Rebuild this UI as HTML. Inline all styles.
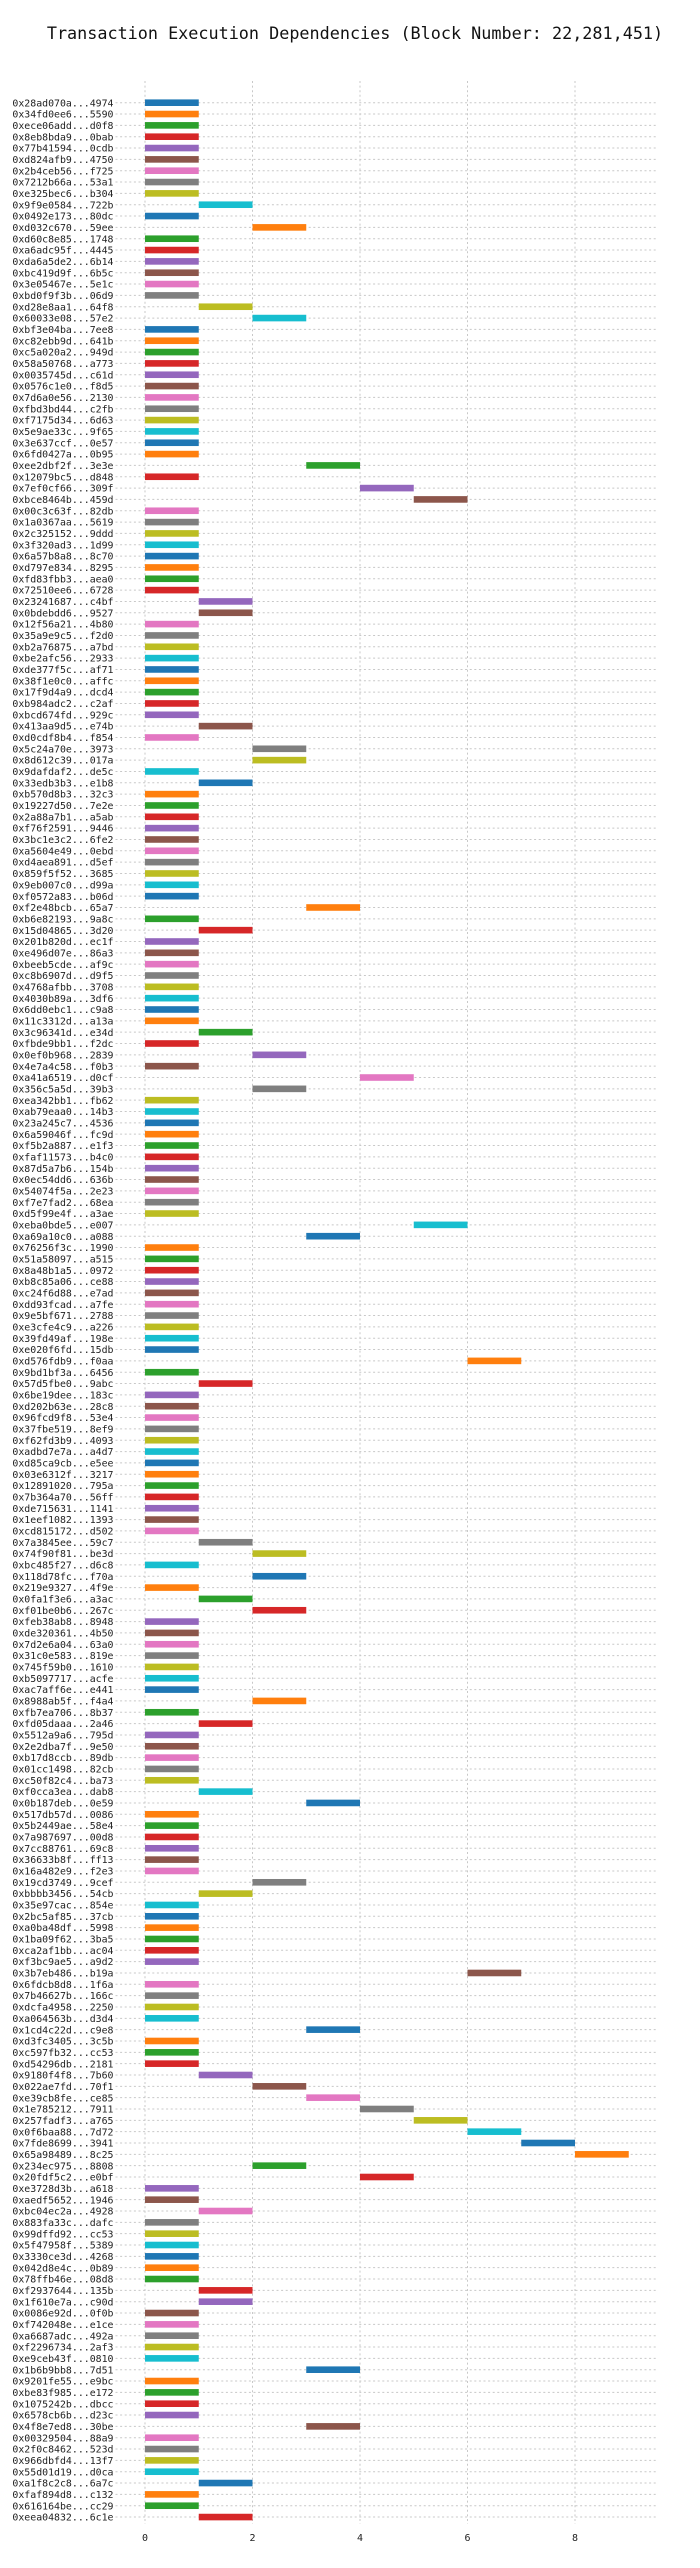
<!DOCTYPE html>
<html>
<head>
<meta charset="utf-8">
<style>
  html,body{margin:0;padding:0;background:#fff;}
  svg{display:block;}
  text{font-family:"DejaVu Sans Mono","Liberation Mono",monospace;}
</style>
</head>
<body>
<svg id="chart" width="700" height="2568" viewBox="0 0 700 2568" xmlns="http://www.w3.org/2000/svg">
  <text x="355" y="39" text-anchor="middle" font-size="16.8" fill="#111">Transaction Execution Dependencies (Block Number: 22,281,451)</text>
  <g id="grid"></g>
  <g id="bars"></g>
  <g id="ylabels"></g>
  <g id="xticks"></g>
</svg>
<script>
const txLabels = ["0x28ad070a...4974","0x34fd0ee6...5590","0xece06add...d0f8","0x8eb8bda9...0bab","0x77b41594...0cdb","0xd824afb9...4750","0x2b4ceb56...f725","0x7212b66a...53a1","0xe325bec6...b304","0x9f9e0584...722b","0x0492e173...80dc","0xd032c670...59ee","0xd60c8e85...1748","0xa6adc95f...4445","0xda6a5de2...6b14",
"0xbc419d9f...6b5c","0x3e05467e...5e1c","0xbd0f9f3b...06d9","0xd28e8aa1...64f8","0x60033e08...57e2","0xbf3e04ba...7ee8","0xc82ebb9d...641b","0xc5a020a2...949d","0x58a50768...a773","0x0035745d...c61d","0x0576c1e0...f8d5","0x7d6a0e56...2130","0xfbd3bd44...c2fb","0xf7175d34...6d63","0x5e9ae33c...9f65","0x3e637ccf...0e57","0x6fd0427a...0b95","0xee2dbf2f...3e3e",
"0x12079bc5...d848","0x7ef0cf66...309f","0xbce8464b...459d","0x00c3c63f...82db","0x1a0367aa...5619","0x2c325152...9ddd","0x3f320ad3...1d99","0x6a57b8a8...8c70","0xd797e834...8295","0xfd83fbb3...aea0","0x72510ee6...6728","0x23241687...c4bf","0x0bdebdd6...9527","0x12f56a21...4b80","0x35a9e9c5...f2d0","0xb2a76875...a7bd","0xbe2afc56...2933","0xde377f5c...af71",
"0x38f1e0c0...affc","0x17f9d4a9...dcd4","0xb984adc2...c2af","0xbcd674fd...929c","0x413aa9d5...e74b","0xd0cdf8b4...f854","0x5c24a70e...3973","0x8d612c39...017a","0x9dafdaf2...de5c","0x33edb3b3...e1b8","0xb570d8b3...32c3","0x19227d50...7e2e","0x2a88a7b1...a5ab","0xf76f2591...9446","0x3bc1e3c2...6fe2","0xa5604e49...0ebd","0xd4aea891...d5ef","0x859f5f52...3685",
"0x9eb007c0...d99a","0xf0572a83...b06d","0xf2e48bcb...65a7","0xb6e82193...9a8c","0x15d04865...3d20","0x201b820d...ec1f","0xe496d07e...86a3","0xbeeb5cde...af9c","0xc8b6907d...d9f5","0x4768afbb...3708","0x4030b89a...3df6","0x6dd0ebc1...c9a8","0x11c3312d...a13a","0x3c96341d...e34d","0xfbde9bb1...f2dc","0x0ef0b968...2839","0x4e7a4c58...f0b3","0xa41a6519...d0cf",
"0x356c5a5d...39b3","0xea342bb1...fb62","0xab79eaa0...14b3","0x23a245c7...4536","0x6a59046f...fc9d","0xf5b2a887...e1f3","0xfaf11573...b4c0","0x87d5a7b6...154b","0x0ec54dd6...636b","0x54074f5a...2e23","0xf7e7fad2...68ea","0xd5f99e4f...a3ae","0xeba0bde5...e007","0xa69a10c0...a088","0x76256f3c...1990","0x51a58097...a515","0x8a48b1a5...0972","0xb8c85a06...ce88",
"0xc24f6d88...e7ad","0xdd93fcad...a7fe","0x9e5bf671...2788","0xe3cfe4c9...a226","0x39fd49af...198e","0xe020f6fd...15db","0xd576fdb9...f0aa","0x9bd1bf3a...6456","0x57d5fbe0...9abc","0x6be19dee...183c","0xd202b63e...28c8","0x96fcd9f8...53e4","0x37fbe519...8ef9","0xf62fd3b9...4093","0xadbd7e7a...a4d7","0xd85ca9cb...e5ee","0x03e6312f...3217","0x12891020...795a","0x7b364a70...56ff",
"0xde715631...1141","0x1eef1082...1393","0xcd815172...d502","0x7a3845ee...59c7","0x74f90f81...be3d","0xbc485f27...d6c8","0x118d78fc...f70a","0x219e9327...4f9e","0x0fa1f3e6...a3ac","0xf01be0b6...267c","0xfeb38ab8...8948","0xde320361...4b50","0x7d2e6a04...63a0","0x31c0e583...819e","0x745f59b0...1610","0xb5097717...acfe","0xac7aff6e...e441","0x8988ab5f...f4a4",
"0xfb7ea706...8b37","0xfd05daaa...2a46","0x5512a9a6...795d","0x2e2dba7f...9e50","0xb17d8ccb...89db","0x01cc1498...82cb","0xc50f82c4...ba73","0xf0cca3ea...dab8","0x0b187deb...0e59","0x517db57d...0086","0x5b2449ae...58e4","0x7a987697...00d8","0x7cc88761...69c8","0x36633b8f...ff13","0x16a482e9...f2e3","0x19cd3749...9cef","0xbbbb3456...54cb","0x35e97cac...854e",
"0x2bc5af85...37cb","0xa0ba48df...5998","0x1ba09f62...3ba5","0xca2af1bb...ac04","0xf3bc9ae5...a9d2","0x3b7eb486...b19a","0x6fdcb8d8...1f6a","0x7b46627b...166c","0xdcfa4958...2250","0xa064563b...d3d4","0x1cd4c22d...c9e8","0xd3fc3405...3c5b","0xc597fb32...cc53","0xd54296db...2181","0x9180f4f8...7b60","0x022ae7fd...70f1","0xe39cb8fe...ce85","0x1e785212...7911",
"0x257fadf3...a765","0x0f6baa88...7d72","0x7fde8699...3941","0x65a98489...8c25","0x234ec975...8808","0x20fdf5c2...e0bf","0xe3728d3b...a618","0xaedf5652...1946","0xbc04ec2a...4928","0x883fa33c...dafc","0x99dffd92...cc53","0x5f47958f...5389","0x3330ce3d...4268","0x042d8e4c...0b89","0x78ffb46e...08d8","0xf2937644...135b","0x1f610e7a...c90d","0x0086e92d...0f0b",
"0xf742048e...e1ce","0xa6687adc...492a","0xf2296734...2af3","0xe9ceb43f...0810","0x1b6b9bb8...7d51","0x9201fe55...e9bc","0xbe83f985...e172","0x1075242b...dbcc","0x6578cb6b...d23c","0x4f8e7ed8...30be","0x00329504...88a9","0x2f0c8462...523d","0x966dbfd4...13f7","0x55d01d19...d0ca","0xa1f8c2c8...6a7c","0xfaf894d8...c132","0x616164be...cc29","0xeea04832...6c1e"];

const startTimes = [0,0,0,0,0,0,0,0,0,1,0,2,0,0,0,
0,0,0,1,2,0,0,0,0,0,0,0,0,0,0,0,0,3,
0,4,5,0,0,0,0,0,0,0,0,1,1,0,0,0,0,0,
0,0,0,0,1,0,2,2,0,1,0,0,0,0,0,0,0,0,
0,0,3,0,1,0,0,0,0,0,0,0,0,1,0,2,0,4,
2,0,0,0,0,0,0,0,0,0,0,0,5,3,0,0,0,0,
0,0,0,0,0,0,6,0,1,0,0,0,0,0,0,0,0,0,0,
0,0,0,1,2,0,2,0,1,2,0,0,0,0,0,0,0,2,
0,1,0,0,0,0,0,1,3,0,0,0,0,0,0,2,1,0,
0,0,0,0,0,6,0,0,0,0,3,0,0,0,1,2,3,4,
5,6,7,8,2,4,0,0,1,0,0,0,0,0,0,1,1,0,
0,0,0,0,3,0,0,0,0,3,0,0,0,0,1,0,0,1];

const durations = txLabels.map(() => 1);

const xTickValues = [0, 2, 4, 6, 8];
const xTickLabels = ["0", "2", "4", "6", "8"];

const palette = ["#1f77b4","#ff7f0e","#2ca02c","#d62728","#9467bd","#8c564b","#e377c2","#7f7f7f","#bcbd22","#17becf"];

const NS = "http://www.w3.org/2000/svg";
const plotLeft = 115.5, plotRight = 658, plotTop = 81, plotBottom = 2524;
const x0px = 145, unitPx = 53.75;
const row0 = 102.7, rowStep = 11.335;
function xScale(v){ return x0px + v * unitPx; }
function yScale(i){ return row0 + i * rowStep; }

function mk(tag, attrs, parent){
  const el = document.createElementNS(NS, tag);
  for (const k in attrs) el.setAttribute(k, attrs[k]);
  parent.appendChild(el);
  return el;
}

const grid = document.getElementById("grid");
const bars = document.getElementById("bars");
const ylabels = document.getElementById("ylabels");
const xticks = document.getElementById("xticks");

// vertical grid lines
xTickValues.forEach((v, i) => {
  const ln = mk("line", {x1: xScale(v), x2: xScale(v), y1: plotTop, y2: plotBottom, stroke: "#c8c8c8", "stroke-width": 1, "stroke-dasharray": "2,2.6"}, grid);
  
  
  const t = mk("text", {x: xScale(v), y: 2541, "text-anchor": "middle", "font-size": 10, fill: "#222"}, xticks);
  t.textContent = xTickLabels[i];
  
  
});

txLabels.forEach((lab, i) => {
  const y = yScale(i);
  const ln = mk("line", {x1: plotLeft, x2: plotRight, y1: y, y2: y, stroke: "#c8c8c8", "stroke-width": 1, "stroke-dasharray": "2,2.6"}, grid);
  
  

  const t = mk("text", {x: 113.5, y: y + 3.6, "text-anchor": "end", "font-size": 9.9, fill: "#222"}, ylabels);
  t.textContent = lab;
  
  

  const bx = xScale(startTimes[i]);
  const bw = xScale(startTimes[i] + durations[i]) - bx;
  const r = mk("rect", {x: bx, y: y - 3.3, width: bw, height: 6.6, fill: palette[i % 10]}, bars);
  
  
});
</script>
</body>
</html>
